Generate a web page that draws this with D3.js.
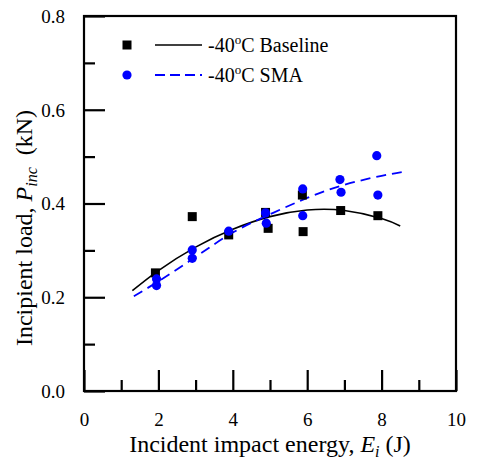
<!DOCTYPE html>
<html><head><meta charset="utf-8">
<script src="https://cdn.jsdelivr.net/npm/d3@7"></script>
<style>
html,body{margin:0;padding:0;background:#fff;}
svg{display:block;}
svg text, svg tspan{font-family:'Liberation Serif' !important;}
</style></head>
<body>
<svg id="chart" width="484" height="475" font-family="Liberation Serif" style="font-family:'Liberation Serif'"></svg>
<script>
// ---- data ----
const baselineX = [1.92, 2.91, 3.89, 4.88, 4.95, 5.87, 5.89, 6.90, 7.90];
const baselineY = [0.252, 0.372, 0.333, 0.381, 0.347, 0.418, 0.340, 0.385, 0.374];
const smaX = [1.95, 1.95, 2.91, 2.91, 3.89, 4.88, 4.90, 5.88, 5.88, 6.88, 6.91, 7.87, 7.90];
const smaY = [0.239, 0.225, 0.301, 0.283, 0.341, 0.380, 0.358, 0.431, 0.374, 0.451, 0.424, 0.502, 0.418];
const baselineFitX = [1.3, 2, 3, 4, 5, 6, 7, 8, 8.5];
const baselineFitY = [0.214, 0.257, 0.307, 0.345, 0.372, 0.386, 0.385, 0.368, 0.352];
const smaFitX = [1.34, 2, 3, 4, 5, 6, 7, 8, 8.55];
const smaFitY = [0.202, 0.234, 0.286, 0.338, 0.377, 0.412, 0.440, 0.459, 0.467];
const xMajorTicks = [0, 2, 4, 6, 8, 10];
const xMinorTicks = [1, 3, 5, 7, 9];
const yMajorTicks = [0, 0.2, 0.4, 0.6, 0.8];
const yMinorTicks = [0.1, 0.3, 0.5, 0.7];

const FONT = "Liberation Serif";
const svg = d3.select("#chart");
const L = 84, R = 456, T = 16, B = 391;
const x = d3.scaleLinear().domain([0, 10]).range([L, R]);
const y = d3.scaleLinear().domain([0, 0.8]).range([B, T]);

function serif(sel) { return sel.attr("font-family", FONT).style("font-family", "'" + FONT + "'"); }

// axes (inward ticks)
const gx = svg.append("g").attr("transform", `translate(0,${B})`)
  .call(d3.axisBottom(x).tickValues(xMajorTicks).tickSizeInner(-21).tickSizeOuter(0).tickPadding(22).tickFormat(d3.format("d")));
const gxm = svg.append("g").attr("transform", `translate(0,${B})`)
  .call(d3.axisBottom(x).tickValues(xMinorTicks).tickSizeInner(-11).tickSizeOuter(0).tickFormat(""));
const gy = svg.append("g").attr("transform", `translate(${L},0)`)
  .call(d3.axisLeft(y).tickValues(yMajorTicks).tickSizeInner(-21).tickSizeOuter(0).tickPadding(19).tickFormat(d3.format(".1f")));
const gym = svg.append("g").attr("transform", `translate(${L},0)`)
  .call(d3.axisLeft(y).tickValues(yMinorTicks).tickSizeInner(-11).tickSizeOuter(0).tickFormat(""));
[gx, gxm, gy, gym].forEach(g => {
  serif(g).attr("font-size", 19);
  g.select(".domain").remove();
  g.selectAll(".tick line").attr("stroke", "#000").attr("stroke-width", 2.2);
  serif(g.selectAll(".tick text")).attr("font-size", 19).attr("fill", "#000");
});
gx.selectAll(".tick text").attr("dy", "0.71em");
gy.selectAll(".tick text").attr("dy", "0.33em");

// frame
svg.append("rect").attr("x", L).attr("y", T).attr("width", R - L).attr("height", B - T)
  .attr("fill", "none").attr("stroke", "#000").attr("stroke-width", 2.2);

// fit curves
const line = d3.line().x(d => x(d[0])).y(d => y(d[1])).curve(d3.curveNatural);
svg.append("path").datum(baselineFitX.map((v, i) => [v, baselineFitY[i]]))
  .attr("d", line).attr("fill", "none").attr("stroke", "#000").attr("stroke-width", 1.6);
svg.append("path").datum(smaFitX.map((v, i) => [v, smaFitY[i]]))
  .attr("d", line).attr("fill", "none").attr("stroke", "#0000FF").attr("stroke-width", 1.8)
  .attr("stroke-dasharray", "10,6");

// markers
const sq = 9;
svg.append("g").selectAll("rect").data(baselineX.map((v, i) => [v, baselineY[i]])).join("rect")
  .attr("x", d => x(d[0]) - sq / 2).attr("y", d => y(d[1]) - sq / 2)
  .attr("width", sq).attr("height", sq).attr("fill", "#000");
svg.append("g").selectAll("circle").data(smaX.map((v, i) => [v, smaY[i]])).join("circle")
  .attr("cx", d => x(d[0])).attr("cy", d => y(d[1])).attr("r", 4.6).attr("fill", "#0000FF");

// legend
const legend = [
  {label: "Baseline", type: "sq", color: "#000", dash: null, yy: 45},
  {label: "SMA", type: "c", color: "#0000FF", dash: "10,5", yy: 75}
];
legend.forEach(l => {
  if (l.type === "sq") svg.append("rect").attr("x", 127 - sq / 2).attr("y", l.yy - sq / 2).attr("width", sq).attr("height", sq).attr("fill", l.color);
  else svg.append("circle").attr("cx", 127).attr("cy", l.yy).attr("r", 4.6).attr("fill", l.color);
  svg.append("line").attr("x1", 155).attr("x2", 202).attr("y1", l.yy).attr("y2", l.yy)
    .attr("stroke", l.color).attr("stroke-width", l.dash ? 1.8 : 1.6).attr("stroke-dasharray", l.dash);
  const t = serif(svg.append("text")).attr("x", 208).attr("y", l.yy + 7).attr("font-size", 20);
  t.append("tspan").text("-40");
  t.append("tspan").text("o").attr("font-size", 13).attr("dy", -8);
  t.append("tspan").text("C " + l.label).attr("dy", 8);
});

// axis titles
const xt = serif(svg.append("text")).attr("x", (L + R) / 2).attr("y", 452).attr("text-anchor", "middle").attr("font-size", 24);
xt.append("tspan").text("Incident impact energy, ");
xt.append("tspan").text("E").attr("font-style", "italic");
xt.append("tspan").text("i").attr("font-style", "italic").attr("font-size", 16).attr("dy", 5);
xt.append("tspan").text(" (J)").attr("dy", -5);

const yt = serif(svg.append("text")).attr("transform", "translate(32,228) rotate(-90)").attr("text-anchor", "middle").attr("font-size", 24);
yt.append("tspan").text("Incipient load, ");
yt.append("tspan").text("P").attr("font-style", "italic");
yt.append("tspan").text("inc").attr("font-style", "italic").attr("font-size", 16).attr("dy", 5);
yt.append("tspan").text("\u00a0\u00a0(kN)").attr("dy", -5);
</script>
</body></html>
